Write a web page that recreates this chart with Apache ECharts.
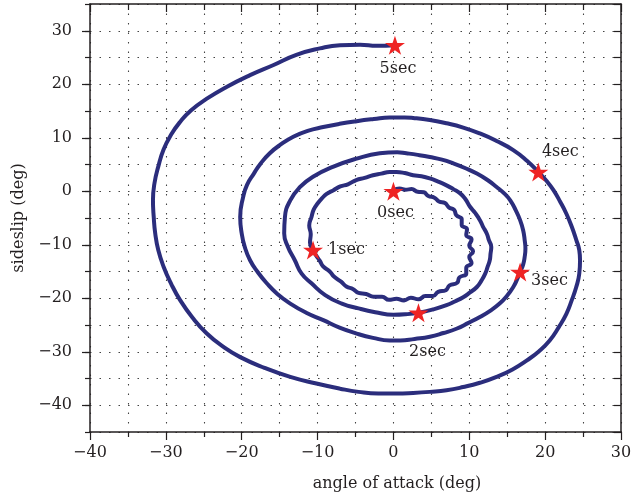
<!DOCTYPE html>
<html>
<head>
<meta charset="utf-8">
<script src="https://cdn.jsdelivr.net/npm/echarts@6/dist/echarts.min.js"></script>
<style>
  html, body { margin: 0; padding: 0; background: #ffffff; }
  #chart { width: 644px; height: 500px; }
</style>
</head>
<body>
<div id="chart"></div>
<script>
// ---------------- DATA ----------------
const xTickValues = [-40, -30, -20, -10, 0, 10, 20, 30];
const yTickValues = [-40, -30, -20, -10, 0, 10, 20, 30];
const xAxisTitle = 'angle of attack (deg)';
const yAxisTitle = 'sideslip (deg)';

const timeLabels = ['0sec', '1sec', '2sec', '3sec', '4sec', '5sec'];
const starAlpha = [0.0, -10.6, 3.3, 16.7, 19.1, 0.2];
const starBeta  = [0.0, -11.0, -22.7, -15.1, 3.6, 27.3];

// trajectory, [alpha, beta], split by second
const seg0to1 = [
  [0,0.2],[0.8,0.5],[1.6,0.3],[2.4,0.4],[3.2,-0.1],[4.0,-0.2],[4.6,-0.9],[5.4,-1.2],[6.0,-1.9],[6.8,-2.2],
  [7.3,-3.0],[8.0,-3.5],[8.3,-4.5],[9.0,-5.2],[9.0,-6.3],[9.7,-7.1],[9.6,-8.2],[10.3,-9.0],[10.0,-10.2],[10.5,-11.2],
  [10.0,-12.3],[10.3,-13.4],[9.6,-14.3],[9.6,-15.4],[8.7,-16.1],[8.4,-17.1],[7.4,-17.6],[6.9,-18.5],[5.9,-18.8],[5.2,-19.6],
  [4.2,-19.6],[3.3,-20.2],[2.3,-19.9],[1.4,-20.4],[0.4,-20.1],[-0.6,-20.3],[-1.5,-19.7],[-2.6,-19.7],[-3.6,-19.2],[-4.6,-19.0],
  [-5.3,-18.3],[-6.2,-17.8],[-6.9,-16.9],[-7.8,-16.0],[-8.4,-15.0],[-9.3,-14.0],[-9.7,-13.0],[-10.2,-12.0],[-10.6,-11.0]
];
const seg1to2 = [
  [-11.0,-9.6],[-10.9,-8.0],[-11.1,-6.4],[-10.8,-4.8],[-10.5,-3.4],[-10.0,-2.3],[-9.4,-1.3],[-8.8,-0.5],[-7.9,0.2],[-7.0,0.9],
  [-6.0,1.3],[-4.9,2.1],[-3.8,2.5],[-2.7,3.0],[-1.6,3.3],[-0.5,3.6],[0.4,3.6],[1.5,3.4],[2.6,3.0],[3.7,2.8],
  [4.8,2.4],[5.9,1.8],[7.0,1.1],[7.9,0.4],[8.8,-0.4],[9.5,-1.5],[10.1,-2.9],[10.8,-4.1],[11.4,-5.4],[11.8,-6.6],
  [12.3,-7.9],[12.6,-9.2],[12.9,-10.4],[12.8,-11.7],[12.7,-12.9],[12.4,-14.2],[12.1,-15.4],[11.6,-16.7],[11.0,-17.9],[10.1,-18.9],
  [9.2,-19.8],[8.1,-20.6],[7.0,-21.3],[5.2,-22.1],[3.3,-22.7]
];
const seg2to3 = [
  [1.6,-23.0],[0,-23.1],[-2.4,-22.6],[-4.6,-21.9],[-6.8,-21.0],[-9.0,-19.4],[-10.8,-17.2],[-12.1,-15.4],[-13.0,-12.9],[-13.9,-10.4],
  [-14.4,-7.9],[-14.3,-4.8],[-13.6,-1.7],[-12.3,0.8],[-10.6,2.7],[-7.9,4.6],[-4.85,6.1],[-1.8,7.1],[0.5,7.3],[1.7,7.1],
  [3.2,6.8],[4.8,6.4],[6.4,5.9],[7.9,5.2],[9.5,4.3],[11.0,3.3],[12.4,2.1],[13.6,0.8],[14.6,-0.4],[15.4,-1.7],
  [16.1,-3.5],[16.7,-5.4],[17.1,-7.3],[17.3,-9.1],[17.4,-10.7],[17.3,-12.3],[17.1,-13.7],[16.7,-15.1]
];
const seg3to4 = [
  [16.3,-16.5],[15.8,-17.9],[15.0,-19.5],[14.0,-21.0],[12.8,-22.3],[11.4,-23.5],[9.9,-24.6],[8.3,-25.7],[6.6,-26.5],[4.8,-27.2],
  [2.8,-27.6],[0.9,-27.9],[-0.5,-27.9],[-2.7,-27.4],[-4.85,-26.6],[-7.1,-25.5],[-9.25,-24.1],[-11.5,-22.7],[-13.6,-21.0],[-15.3,-19.2],
  [-16.7,-17.2],[-17.9,-15.1],[-18.9,-12.9],[-19.6,-10.4],[-20.0,-7.9],[-20.2,-4.8],[-19.8,-1.0],[-19.3,1.2],[-18.4,3.3],[-17.5,5.2],
  [-16.3,7.1],[-14.9,8.7],[-13.2,10.2],[-11.3,11.3],[-9.25,12.0],[-7.1,12.6],[-4.85,13.1],[-2.6,13.5],[-0.5,13.8],[1.5,13.8],
  [2.6,13.7],[4.8,13.3],[7.0,12.7],[9.2,11.9],[11.4,10.8],[13.6,9.4],[15.8,7.7],[17.6,5.7],[19.1,3.6]
];
const seg4to5 = [
  [20.2,1.9],[21.1,0.2],[22.0,-2.0],[22.8,-4.2],[23.5,-6.6],[24.1,-9.1],[24.5,-11.0],[24.6,-12.9],[24.5,-15.4],[24.1,-17.9],
  [23.5,-20.4],[22.8,-22.9],[21.8,-25.4],[20.6,-27.9],[19.2,-29.9],[17.6,-31.6],[15.7,-33.3],[13.6,-34.7],[11.4,-35.8],[9.2,-36.6],
  [7.0,-37.2],[4.8,-37.5],[2.6,-37.7],[0.4,-37.8],[-2.0,-37.8],[-4.6,-37.5],[-7.05,-36.9],[-10.3,-35.9],[-13.6,-34.7],[-17.0,-33.0],
  [-20.2,-31.0],[-22.5,-29.0],[-24.6,-26.6],[-26.5,-23.6],[-28.1,-20.4],[-29.3,-17.3],[-30.3,-14.1],[-31.0,-11.0],[-31.4,-7.9],[-31.6,-4.8],
  [-31.7,-1.7],[-31.5,1.5],[-31.0,4.6],[-30.3,7.8],[-29.3,10.6],[-28.1,13.0],[-26.7,15.1],[-24.6,17.3],[-22.0,19.5],[-18.9,21.7],
  [-15.8,23.6],[-12.8,25.5],[-9.7,26.7],[-7.05,27.3],[-4.4,27.4],[-2.2,27.2],[0.2,27.3]
];

// ---------------- STYLE ----------------
const FONT = 'DejaVu Serif';
const TEXT = '#231f20';
const LINE = '#2b2d7c';
const STAR = '#ee2424';
const dotted = { color: '#444', width: 1.1, type: [1.5, 8] };
const starPath = 'path://M50 0 L61.23 34.55 L97.55 34.55 L68.17 55.9 L79.39 90.45 L50 69.1 L20.61 90.45 L31.83 55.9 L2.45 34.55 L38.77 34.55 Z';
const labelPlacement = [
  { position: 'bottom', distance: 4, offset: [2, 0] },
  { position: 'right', distance: 5, offset: [0, 0] },
  { position: 'bottom', distance: 22, offset: [9, 0] },
  { position: 'right', distance: 1, offset: [0, 9] },
  { position: 'top', distance: 3, offset: [22, 0] },
  { position: 'bottom', distance: 6, offset: [3, 0] }
];
const fmt = v => String(v).replace('-', '\u2212');

const trajectory = [].concat(seg0to1, seg1to2, seg2to3, seg3to4, seg4to5);
const starData = timeLabels.map((t, i) => ({
  value: [starAlpha[i], starBeta[i]],
  name: t,
  label: Object.assign({ show: true, formatter: t, fontFamily: FONT, fontSize: 16, color: TEXT, opacity: 1 }, labelPlacement[i])
}));

const chart = echarts.init(document.getElementById('chart'), null, { renderer: 'canvas' });
const axisLineStyle = { color: TEXT, width: 1.5 };
const tickStyle = { color: TEXT, width: 1.2 };

chart.setOption({
  animation: false,
  backgroundColor: '#ffffff',
  grid: { left: 90, right: 23, top: 4, bottom: 68, containLabel: false },
  xAxis: [
    {
      type: 'value', position: 'bottom', min: -40, max: 30, interval: 10,
      axisLine: { show: true, onZero: false, lineStyle: axisLineStyle },
      axisTick: { show: true, inside: false, length: 8, lineStyle: tickStyle },
      minorTick: { show: true, splitNumber: 2, length: 5, lineStyle: tickStyle },
      axisLabel: { show: true, margin: 13, color: TEXT, fontFamily: FONT, fontSize: 16, formatter: fmt },
      splitLine: { show: true, lineStyle: dotted },
      minorSplitLine: { show: true, lineStyle: dotted },
      name: xAxisTitle, nameLocation: 'middle', nameGap: 44,
      nameTextStyle: { color: TEXT, fontFamily: FONT, fontSize: 16, padding: [0, 0, 0, 83] }
    },
    {
      type: 'value', position: 'top', min: -40, max: 30, interval: 10,
      axisLine: { show: true, onZero: false, lineStyle: axisLineStyle },
      axisTick: { show: true, inside: true, length: 8, lineStyle: tickStyle },
      minorTick: { show: true, splitNumber: 2, length: 6, lineStyle: tickStyle },
      axisLabel: { show: false },
      splitLine: { show: false }
    }
  ],
  yAxis: [
    {
      type: 'value', position: 'left', min: -45, max: 35, interval: 5,
      axisLine: { show: true, onZero: false, lineStyle: axisLineStyle },
      axisTick: { show: true, inside: false, length: 5, lineStyle: tickStyle },
      axisLabel: { show: false },
      splitLine: { show: true, lineStyle: dotted }
    },
    {
      type: 'value', position: 'left', min: -45, max: 35, interval: 5,
      axisLine: { show: false, onZero: false },
      axisTick: { show: true, inside: false, length: 8, lineStyle: tickStyle, customValues: yTickValues },
      axisLabel: { show: true, margin: 18, color: TEXT, fontFamily: FONT, fontSize: 16, formatter: fmt, customValues: yTickValues },
      splitLine: { show: false },
      name: yAxisTitle, nameLocation: 'middle', nameGap: 57,
      nameTextStyle: { color: TEXT, fontFamily: FONT, fontSize: 16 }
    },
    {
      type: 'value', position: 'right', min: -45, max: 35, interval: 5,
      axisLine: { show: true, onZero: false, lineStyle: axisLineStyle },
      axisTick: { show: true, inside: true, length: 7, lineStyle: tickStyle },
      axisLabel: { show: false },
      splitLine: { show: false }
    }
  ],
  series: [
    {
      type: 'line', xAxisIndex: 0, yAxisIndex: 0,
      data: trajectory, showSymbol: false, symbol: 'none', smooth: 0.5,
      lineStyle: { color: LINE, width: 4, cap: 'round', join: 'round' },
      z: 3
    },
    {
      type: 'scatter', xAxisIndex: 0, yAxisIndex: 0,
      data: starData, symbol: starPath, symbolSize: [20, 19],
      itemStyle: { color: STAR, opacity: 1 },
      emphasis: { disabled: true },
      z: 5
    }
  ]
});
</script>
</body>
</html>
